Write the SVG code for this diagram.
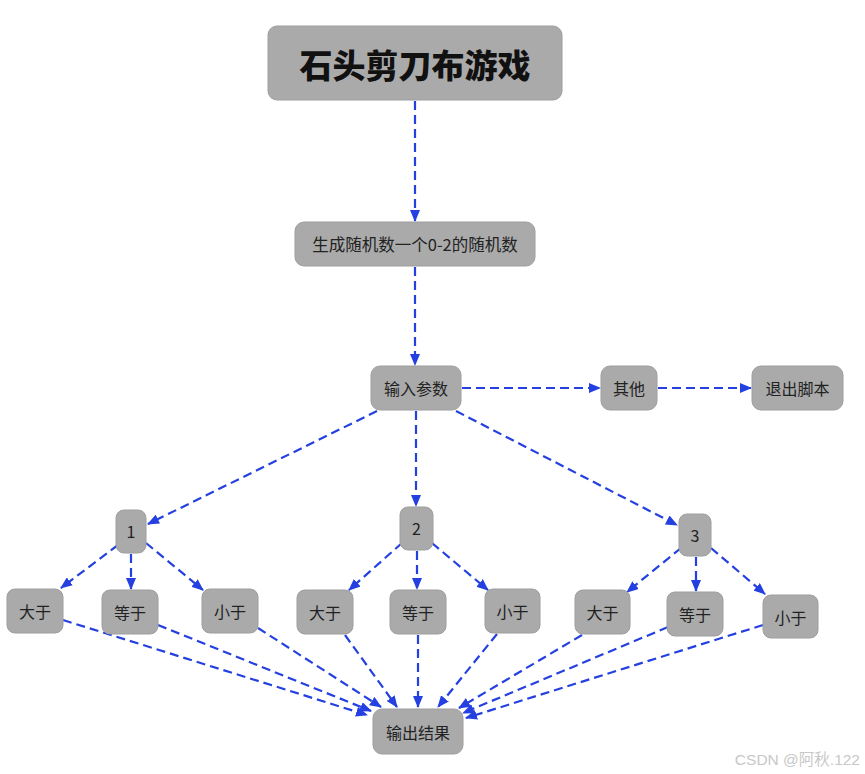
<svg xmlns="http://www.w3.org/2000/svg" width="865" height="774" viewBox="0 0 865 774">
<defs>
<marker id="arr" markerUnits="userSpaceOnUse" markerWidth="12" markerHeight="10" refX="11" refY="5" orient="auto">
<path d="M0,0 L12,5 L0,10 Z" fill="#2540e0"/>
</marker>
<style>
.n rect{fill:#aaaaaa;stroke:#9e9e9e;stroke-width:1}
.n text{font-family:"Noto Sans CJK SC","Noto Sans",sans-serif;font-size:16px;fill:#222;text-anchor:middle;dominant-baseline:central}
#edges line{stroke:#2540e0;stroke-width:2.2;stroke-dasharray:9,5;fill:none;marker-end:url(#arr)}
</style>
</defs>
<rect width="865" height="774" fill="#ffffff"/>
<g id="edges">
<line x1="415" y1="101" x2="415" y2="221"/>
<line x1="415" y1="267" x2="415" y2="365"/>
<line x1="462" y1="388" x2="600" y2="388"/>
<line x1="658" y1="388" x2="751" y2="388"/>
<line x1="377" y1="411" x2="148" y2="524"/>
<line x1="416" y1="411" x2="416" y2="506"/>
<line x1="456" y1="411" x2="677" y2="525"/>
<line x1="118" y1="545" x2="61" y2="588"/>
<line x1="131" y1="554" x2="131" y2="589"/>
<line x1="146" y1="543" x2="203" y2="590"/>
<line x1="402" y1="543" x2="349" y2="590"/>
<line x1="417" y1="551" x2="417" y2="589"/>
<line x1="432" y1="543" x2="488" y2="590"/>
<line x1="681" y1="548" x2="627" y2="592"/>
<line x1="696" y1="557" x2="696" y2="591"/>
<line x1="711" y1="548" x2="765" y2="594"/>
<line x1="63" y1="620" x2="367" y2="715"/>
<line x1="158" y1="625" x2="371" y2="711"/>
<line x1="258" y1="628" x2="381" y2="707"/>
<line x1="345" y1="635" x2="397" y2="707"/>
<line x1="418" y1="635" x2="418" y2="707"/>
<line x1="497" y1="634" x2="438" y2="707"/>
<line x1="582" y1="635" x2="459" y2="708"/>
<line x1="668" y1="627" x2="463" y2="713"/>
<line x1="763" y1="625" x2="466" y2="718"/>
</g>
<g id="title" class="n"><rect x="268" y="26" width="294" height="74" rx="9"/><text x="415" y="64" style="font-size:33px;font-weight:900;fill:#111">石头剪刀布游戏</text></g>
<g id="gen" class="n"><rect x="295" y="222" width="240" height="44" rx="9"/><text x="415" y="244" style="font-size:16.5px">生成随机数一个0-2的随机数</text></g>
<g id="input" class="n"><rect x="371" y="366" width="90" height="44" rx="9"/><text x="416" y="388">输入参数</text></g>
<g id="other" class="n"><rect x="601" y="366" width="56" height="44" rx="9"/><text x="629" y="388">其他</text></g>
<g id="exit" class="n"><rect x="752" y="366" width="91" height="44" rx="9"/><text x="797.5" y="388">退出脚本</text></g>
<g id="n1" class="n"><rect x="116" y="510" width="30" height="43" rx="8"/><text x="131" y="531">1</text></g>
<g id="n2" class="n"><rect x="400" y="507" width="33" height="43" rx="8"/><text x="416.5" y="528">2</text></g>
<g id="n3" class="n"><rect x="679" y="514" width="32" height="42" rx="8"/><text x="695" y="535">3</text></g>
<g id="gt1" class="n"><rect x="7" y="589" width="56" height="44" rx="8"/><text x="35" y="611">大于</text></g>
<g id="eq1" class="n"><rect x="102" y="590" width="56" height="44" rx="8"/><text x="130" y="612">等于</text></g>
<g id="lt1" class="n"><rect x="202" y="589" width="56" height="44" rx="8"/><text x="230" y="611">小于</text></g>
<g id="gt2" class="n"><rect x="297" y="590" width="56" height="44" rx="8"/><text x="325" y="612">大于</text></g>
<g id="eq2" class="n"><rect x="390" y="590" width="56" height="44" rx="8"/><text x="418" y="612">等于</text></g>
<g id="lt2" class="n"><rect x="485" y="589" width="55" height="44" rx="8"/><text x="512.5" y="611">小于</text></g>
<g id="gt3" class="n"><rect x="575" y="590" width="55" height="44" rx="8"/><text x="602.5" y="612">大于</text></g>
<g id="eq3" class="n"><rect x="667" y="592" width="56" height="44" rx="8"/><text x="695" y="614">等于</text></g>
<g id="lt3" class="n"><rect x="763" y="595" width="55" height="43" rx="8"/><text x="790.5" y="616.5">小于</text></g>
<g id="out" class="n"><rect x="373" y="709" width="90" height="45" rx="9"/><text x="418" y="731.5">输出结果</text></g>
<text x="860" y="765" style="font-family:'Liberation Sans','Noto Sans CJK SC',sans-serif;font-size:15.5px;fill:#c8c8c8;text-anchor:end">CSDN @阿秋.122</text>
</svg>
